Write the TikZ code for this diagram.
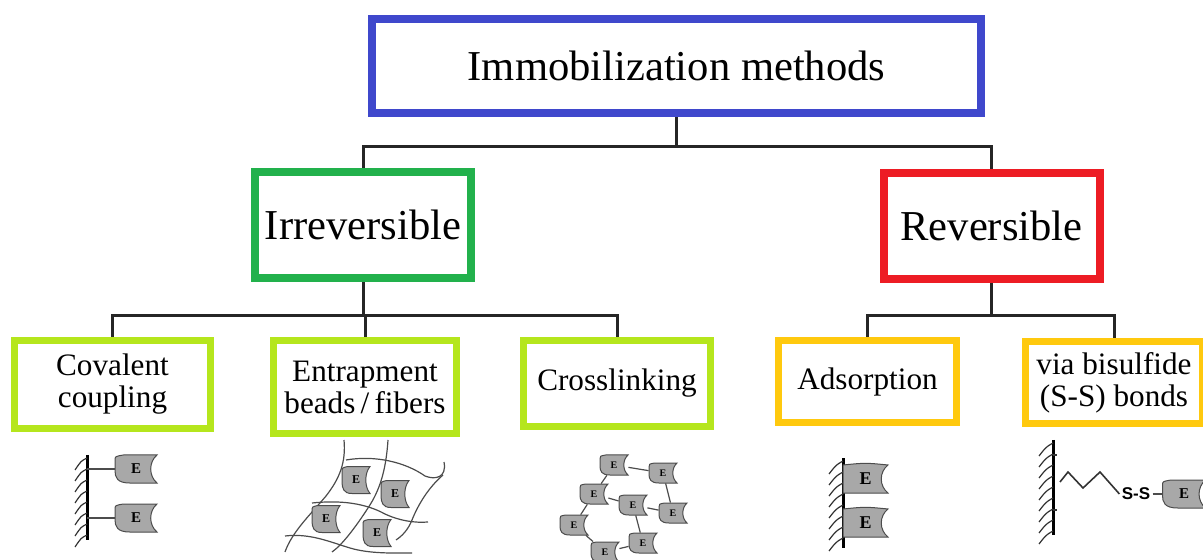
\documentclass[tikz,border=0pt]{standalone}
\usepackage{fontspec}
\setmainfont{Liberation Serif}
\newfontfamily\labelsans{Liberation Sans}
\usepackage{tikz}
\usetikzlibrary{positioning,calc,backgrounds}
\definecolor{topblue}{HTML}{3F48CC}
\definecolor{irrgreen}{HTML}{22B14C}
\definecolor{revred}{HTML}{ED1C24}
\definecolor{methlime}{HTML}{B5E61D}
\definecolor{methgold}{HTML}{FFC90E}
\definecolor{enzgray}{HTML}{A8A8A8}
\tikzset{
  mbox/.style={draw,fill=white,align=center,inner sep=0pt},
  mtop/.style={mbox,draw=topblue,line width=4pt,
    font=\fontsize{21.3}{25}\selectfont},
  mclass/.style={mbox,line width=4pt,minimum width=108pt,minimum height=53pt,
    font=\fontsize{21.3}{25}\selectfont},
  mmeth/.style={mbox,line width=3.5pt,font=\fontsize{15.6}{16}\selectfont},
  mlink/.style={line width=1.5pt,black!85},
  eshape/.style={fill=enzgray,draw=black!70,line width=0.5pt},
  enz/.style={inner sep=0pt,font=\bfseries\fontsize{7.5}{7.5}\selectfont},
  fibre/.style={black!70,line width=0.6pt},
  hatch/.style={black!80,line width=0.6pt},
  wall/.style={line width=1.5pt},
  pics/enzround/.style={code={
    \filldraw[eshape] (-0.3,-0.5) -- (0.5,-0.5)
      .. controls (0.3,-0.25) and (0.3,0.25) .. (0.5,0.5) -- (-0.15,0.5)
      .. controls (-0.45,0.5) and (-0.5,0.3) .. (-0.5,0.05) -- (-0.5,-0.3)
      .. controls (-0.5,-0.45) .. (-0.3,-0.5) -- cycle;}},
  pics/enzflat/.style={code={
    \filldraw[eshape] (-0.5,-0.5) .. controls (0,-0.58) .. (0.5,-0.5)
      .. controls (0.3,-0.25) and (0.3,0.25) .. (0.5,0.5) -- (-0.5,0.5) -- cycle;}},
}
% enzyme block: [node opts]{name}{centre}{pic}{width}{height}, sizes in px
\newcommand{\enzyme}[6][]{%
  \pic[xscale=#5,yscale=#6] at (#3) {#4};
  \node[enz,minimum width=#5*0.5pt,minimum height=#6*0.5pt,#1] (#2) at (#3) {E};}

\begin{document}
\begin{tikzpicture}[x=0.5pt,y=-0.5pt]
\useasboundingbox (0,0) rectangle (1203,560);
% root and the two classes
\node[mtop,minimum width=304.5pt,minimum height=47pt] (top) at (676.5,66) {Immobilization methods};
\node[mclass,draw=irrgreen] (irr) at (363,225) {Irreversible};
\node[mclass,draw=revred] (rev) at (991.5,226) {Reversible};
% methods
\node[mmeth,draw=methlime,minimum width=98pt,minimum height=44pt] (cov) at (112.5,384.5) {Covalent\\coupling};
\node[mmeth,draw=methlime,minimum width=91.5pt,minimum height=46.5pt] (ent) at (365,387) {Entrapment\\beads\,/\,fibers};
\node[mmeth,draw=methlime,minimum width=93.5pt,minimum height=43pt] (crs) at (617,383.5) {Crosslinking};
\node[mmeth,draw=methgold,minimum width=89pt,minimum height=41pt] (ads) at (867.5,381.5) {Adsorption};
\node[mmeth,draw=methgold,minimum width=88.5pt,minimum height=41pt] (bis) at (1114,382.5) {via bisulfide\\(S-S) bonds};
% tree links sit behind the boxes
\begin{scope}[on background layer]
\draw[mlink] (top.south) -- ++(0,30) coordinate (j0) -| (irr.north);
\draw[mlink] (j0) -| (rev.north);
\draw[mlink] (irr.south) -- ++(0,34) coordinate (j1) -| (cov.north);
\draw[mlink] (j1) -| (ent.north);
\draw[mlink] (j1) -| (crs.north);
\draw[mlink] (rev.south) -- ++(0,33) coordinate (j2) -| (ads.north);
\draw[mlink] (j2) -| (bis.north);
\end{scope}

% covalent coupling: two enzymes tied to a surface
\draw[wall] (87,455) -- (87,540);
\foreach \y in {458,469,...,535}
  \draw[hatch] (87,\y) .. controls (81,\y+3) .. (75,\y+12);
\coordinate (cwa) at (87,469);
\coordinate (cwb) at (87,518);
\enzyme{cv1}{136,469}{enzround}{42}{28}
\enzyme{cv2}{136,518}{enzround}{42}{28}
\draw[fibre] (cwa) -- (cv1);
\draw[fibre] (cwb) -- (cv2);

% entrapment: enzymes held in a fibre mesh
\draw[fibre] (344,440) .. controls (346,462) and (340,478) .. (326,496)
  .. controls (310,515) and (292,532) .. (285,552);
\draw[fibre] (388,440) .. controls (386,470) and (380,490) .. (368,508)
  .. controls (355,528) and (342,545) .. (332,552);
\draw[fibre] (346,460) .. controls (375,455) and (405,462) .. (425,476)
  .. controls (435,480) and (447,478) .. (444,462);
\draw[fibre] (443,475) .. controls (428,488) and (418,505) .. (412,520)
  .. controls (408,530) and (402,536) .. (396,540);
\draw[fibre] (312,503) .. controls (340,500) and (365,503) .. (385,514)
  .. controls (400,521) and (415,523) .. (428,522);
\draw[fibre] (285,536) .. controls (310,533) and (330,542) .. (350,548)
  .. controls (370,554) and (395,553) .. (412,553);
\enzyme[font=\bfseries\fontsize{6}{6}\selectfont]{en1}{356,480}{enzround}{28}{27}
\enzyme[font=\bfseries\fontsize{6}{6}\selectfont]{en2}{395,494}{enzround}{28}{27}
\enzyme[font=\bfseries\fontsize{6}{6}\selectfont]{en3}{326,519}{enzround}{28}{27}
\enzyme[font=\bfseries\fontsize{6}{6}\selectfont]{en4}{377,533}{enzround}{28}{27}

% crosslinking: enzymes joined to each other
\foreach \n/\p in {1/{614,465},2/{663,473},3/{594,494},4/{633,505},
                   5/{673,513},6/{574,525},7/{643,543},8/{605,552}}
  {\enzyme[font=\bfseries\fontsize{5}{5}\selectfont]{cl\n}{\p}{enzround}{28}{20}}
\foreach \a/\b in {1/2,1/3,2/5,3/4,4/5,3/6,6/8,8/7,4/7}
  \draw[fibre] (cl\a) -- (cl\b);

% adsorption: enzymes resting on the surface
\draw[wall] (843,458) -- (843,548);
\foreach \y in {461,472,...,546}
  \draw[hatch] (843,\y) .. controls (836,\y+4) .. (829,\y+13);
\enzyme[font=\bfseries\fontsize{9}{9}\selectfont]{ad1}{865.5,479}{enzflat}{45}{28}
\enzyme[font=\bfseries\fontsize{9}{9}\selectfont]{ad2}{865.5,523}{enzflat}{45}{28}

% disulfide link: spacer chain, S-S bridge, enzyme
\draw[wall] (1053,440) -- (1053,535);
\foreach \y in {443,454,...,532}
  \draw[hatch] (1053,\y) .. controls (1046,\y+4) .. (1039,\y+13);
\draw[hatch] (1053,455) -- (1057,455);
\draw[hatch] (1053,510) -- (1057,510);
\coordinate (bw) at (1060,482);
\node[font=\labelsans\bfseries\fontsize{8.5}{8.5}\selectfont,inner sep=1pt] (ss) at (1136,494) {S-S};
\enzyme{bs1}{1184,494}{enzround}{43}{28}
\draw[black!80,line width=0.8pt] (bw) -- (1068,472) -- (1083,488) -- (1100,472) -- (ss.west);
\draw[fibre] (ss) -- (bs1);
\end{tikzpicture}
\end{document}
